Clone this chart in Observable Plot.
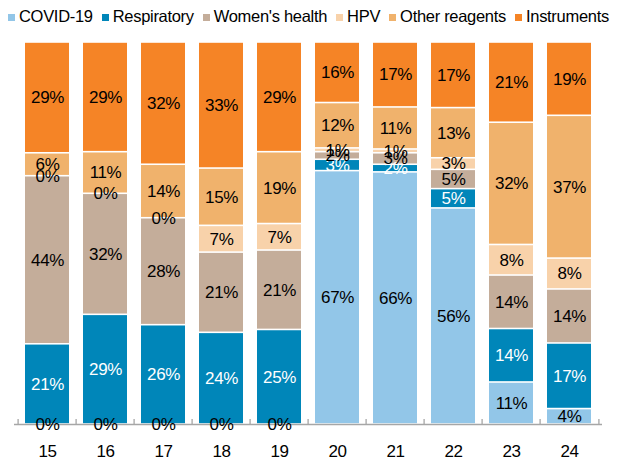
<!DOCTYPE html>
<html>
<head>
<meta charset="utf-8">
<script src="https://cdn.jsdelivr.net/npm/d3@7"></script>
<script src="https://cdn.jsdelivr.net/npm/@observablehq/plot@0.6"></script>
<style>
  body { margin: 0; background: #fff; font-family: "Liberation Sans", Arial, sans-serif; }
  #legend { height: 32px; display: flex; align-items: center; padding-left: 8px; font-size: 16.5px; letter-spacing: -0.3px; color: #000; white-space: nowrap; }
  #legend .item { display: flex; align-items: center; margin-right: 9px; }
  #legend .sw { width: 7px; height: 7px; margin-right: 4px; margin-top: 2px; }
  svg { display: block; }
</style>
</head>
<body>
<div id="legend"></div>
<div id="chart"></div>
<script>
const years = ["15","16","17","18","19","20","21","22","23","24"];
const series = ["COVID-19","Respiratory","Women's health","HPV","Other reagents","Instruments"];
const colors = ["#92c6e8","#0086b9","#c4ad9a","#f8d2aa","#f0b26c","#f58426"];
const covid      = [0, 0, 0, 0, 0, 67, 66, 56, 11, 4];
const respiratory= [21, 29, 26, 24, 25, 3, 2, 5, 14, 17];
const womens     = [44, 32, 28, 21, 21, 2, 3, 5, 14, 14];
const hpv        = [0, 0, 0, 7, 7, 1, 1, 3, 8, 8];
const other      = [6, 11, 14, 15, 19, 12, 11, 13, 32, 37];
const instruments= [29, 29, 32, 33, 29, 16, 17, 17, 21, 19];
const valuesBySeries = [covid, respiratory, womens, hpv, other, instruments];

const data = [];
years.forEach((y, i) => {
  series.forEach((s, j) => data.push({year: y, series: s, value: valuesBySeries[j][i]}));
});

// legend
const leg = document.getElementById("legend");
series.forEach((s, j) => {
  const it = document.createElement("div"); it.className = "item";
  const sw = document.createElement("div"); sw.className = "sw"; sw.style.background = colors[j];
  const tx = document.createElement("span"); tx.textContent = s;
  it.appendChild(sw); it.appendChild(tx); leg.appendChild(it);
});

const width = 619, ml = 14, mr = 17;
const step = (width - ml - mr) / years.length;
const font = "Liberation Sans, Arial, sans-serif";

const chart = Plot.plot({
  width, height: 430,
  marginLeft: ml, marginRight: mr, marginTop: 10, marginBottom: 38,
  style: {fontFamily: font, fontSize: "17px", color: "#000", background: "#fff", letterSpacing: "-0.4px"},
  x: {type: "band", domain: years, paddingInner: 0.25, paddingOuter: 0.125, label: null},
  y: {domain: [0, 1], axis: null},
  color: {domain: series, range: colors},
  marks: [
    Plot.barY(data.filter(d => d.value > 0), Plot.stackY({
      x: "year", y: "value", z: "series", offset: "normalize", order: series,
      fill: "series", insetTop: 0.8, insetBottom: 0.8
    })),
    Plot.ruleY([0], {stroke: "#a6a6a6", strokeWidth: 1.3}),
    Plot.ruleX(years, {x: d => d, dx: -step / 2, y1: 0, y2: 0.013, stroke: "#a6a6a6", strokeWidth: 1.3}),
    Plot.ruleX(years.slice(-1), {x: d => d, dx: step / 2, y1: 0, y2: 0.013, stroke: "#a6a6a6", strokeWidth: 1.3}),
    Plot.text(data, Plot.stackY({
      x: "year", y: "value", z: "series", offset: "normalize", order: series,
      text: d => d.value + "%",
      fill: d => d.series === "Respiratory" ? "white" : "black",
      fontSize: 17
    })),
    Plot.axisX({tickSize: 0, tickPadding: 20, fontSize: 17, fill: "#000"})
  ]
});
document.getElementById("chart").appendChild(chart);
</script>
</body>
</html>
